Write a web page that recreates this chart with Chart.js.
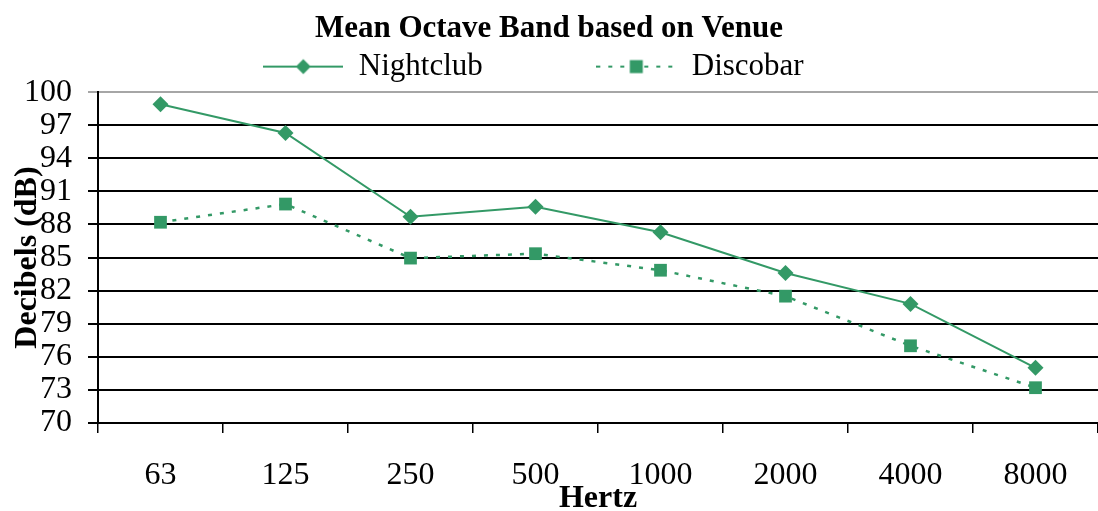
<!DOCTYPE html>
<html>
<head>
<meta charset="utf-8">
<title>Mean Octave Band based on Venue</title>
<script src="https://cdn.jsdelivr.net/npm/chart.js@4.4.1/dist/chart.umd.min.js"></script>
<style>
    html, body { margin: 0; padding: 0; background: #fff; }
    #chartBox { width: 1098px; height: 511px; }
</style>
</head>
<body>
<div id="chartBox"><canvas id="octaveChart" width="1098" height="511"></canvas></div>
<script>
// Octave band centre frequencies (Hz)
const bands = ['63', '125', '250', '500', '1000', '2000', '4000', '8000'];

// Mean level per band (dB)
const nightclub = [98.9, 96.3, 88.7, 89.6, 87.3, 83.6, 80.8, 75.0];
const discobar = [88.2, 89.85, 84.95, 85.35, 83.85, 81.5, 77.0, 73.2];

const seriesNames = ['Nightclub', 'Discobar'];

// y axis range and step
const yMin = 70;
const yMax = 100;
const yStep = 3;

const GREEN = '#339966';
const SERIF = "'Liberation Serif', 'Times New Roman', serif";

// Legend sample: short line with the marker in the middle
function makeLegendMarker(dashed, shape) {
    const c = document.createElement('canvas');
    c.width = 80;
    c.height = 18;
    const ctx = c.getContext('2d');
    ctx.strokeStyle = GREEN;
    ctx.fillStyle = GREEN;
    ctx.lineWidth = 2;
    if (dashed) {
        ctx.setLineDash([4, 8]);
    }
    ctx.beginPath();
    ctx.moveTo(0, 9);
    ctx.lineTo(80, 9);
    ctx.stroke();
    ctx.setLineDash([]);
    if (shape === 'diamond') {
        ctx.beginPath();
        ctx.moveTo(40, 1.5);
        ctx.lineTo(47.5, 9);
        ctx.lineTo(40, 16.5);
        ctx.lineTo(32.5, 9);
        ctx.closePath();
        ctx.fill();
    } else {
        ctx.fillRect(33.5, 2.5, 13, 13);
    }
    return c;
}

const legendMarkers = [makeLegendMarker(false, 'diamond'), makeLegendMarker(true, 'square')];
// trailing en spaces only spread the legend entries apart like the original
const legendGaps = [7, 2];

const ctx = document.getElementById('octaveChart').getContext('2d');
const octaveChart = new Chart(ctx, {
    type: 'line',
    data: {
        labels: bands,
        datasets: [{
            label: seriesNames[0],
            data: nightclub,
            borderColor: GREEN,
            backgroundColor: GREEN,
            borderWidth: 2,
            pointStyle: 'rectRot',
            pointRadius: 8,
            pointHoverRadius: 8,
            pointBorderWidth: 0,
            tension: 0
        }, {
            label: seriesNames[1],
            data: discobar,
            borderColor: GREEN,
            backgroundColor: GREEN,
            borderWidth: 2.5,
            borderDash: [4, 8],
            pointStyle: 'rect',
            pointRadius: 9,
            pointHoverRadius: 9,
            pointBorderWidth: 0,
            tension: 0
        }]
    },
    options: {
        responsive: false,
        animation: false,
        layout: {
            autoPadding: false,
            padding: { left: 0, right: 0, top: 0, bottom: 0 }
        },
        plugins: {
            title: {
                display: true,
                text: 'Mean Octave Band based on Venue',
                color: '#000',
                font: { family: SERIF, size: 31, weight: 'bold', lineHeight: 1.1 },
                padding: { top: 12, bottom: 0 }
            },
            legend: {
                display: true,
                position: 'top',
                labels: {
                    color: '#000',
                    font: { family: SERIF, size: 31 },
                    usePointStyle: true,
                    pointStyleWidth: 80,
                    padding: 5,
                    generateLabels: (chart) => chart.data.datasets.map((ds, i) => ({
                        text: ds.label + '\u2002'.repeat(legendGaps[i]),
                        pointStyle: legendMarkers[i],
                        fillStyle: GREEN,
                        strokeStyle: GREEN,
                        lineWidth: 0,
                        hidden: false,
                        datasetIndex: i
                    }))
                }
            },
            tooltip: { enabled: false }
        },
        scales: {
            x: {
                offset: true,
                grid: {
                    display: true,
                    offset: true,
                    drawOnChartArea: false,
                    drawTicks: true,
                    tickLength: 10,
                    color: '#000',
                    lineWidth: 1.5
                },
                border: { display: true, color: '#000', width: 2 },
                ticks: {
                    color: '#000',
                    font: { family: SERIF, size: 32 },
                    padding: 23,
                    maxRotation: 0,
                    autoSkip: false
                },
                title: {
                    display: true,
                    text: 'Hertz',
                    color: '#000',
                    font: { family: SERIF, size: 32, weight: 'bold', lineHeight: 1 },
                    padding: { top: 0, bottom: -4 }
                },
                afterFit: (scale) => { scale.height = 88; }
            },
            y: {
                min: yMin,
                max: yMax,
                grid: {
                    color: (c) => (c.tick && c.tick.value === yMax ? '#a6a6a6' : '#000'),
                    lineWidth: 2,
                    tickLength: 10,
                    drawTicks: true
                },
                border: { display: true, color: '#000', width: 2 },
                ticks: {
                    stepSize: yStep,
                    autoSkip: false,
                    color: '#000',
                    font: { family: SERIF, size: 32 },
                    padding: 16
                },
                title: {
                    display: true,
                    text: 'Decibels (dB)',
                    color: '#000',
                    font: { family: SERIF, size: 32, weight: 'bold', lineHeight: 1 },
                    padding: { top: 12, bottom: 0 }
                },
                afterFit: (scale) => { scale.width = 98; }
            }
        }
    }
});
</script>
</body>
</html>
